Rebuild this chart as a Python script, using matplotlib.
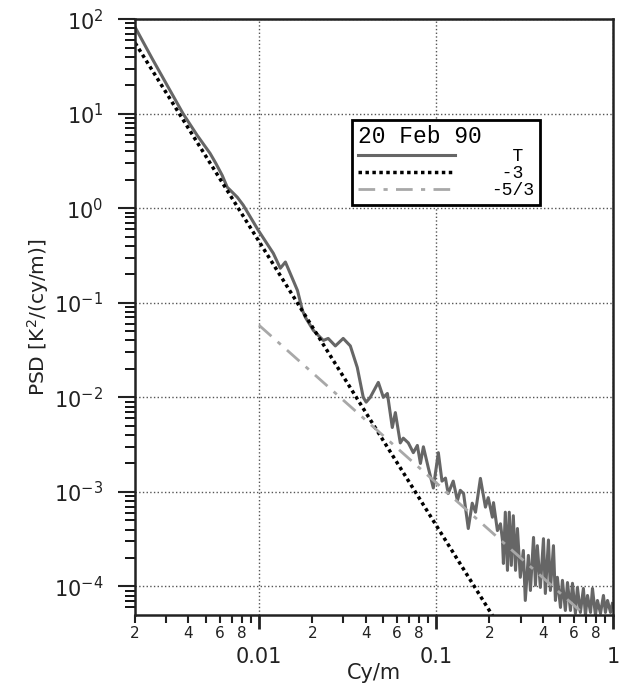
import numpy as np
import matplotlib.pyplot as plt
from matplotlib.ticker import FixedLocator, LogFormatterSciNotation, FuncFormatter, NullFormatter
from matplotlib.font_manager import FontProperties

# temperature spectrum, 20 Feb 90
t_freq = [0.002, 0.0025, 0.00303, 0.00373, 0.00448, 0.0053, 0.0057, 0.0062,
          0.00662, 0.00754, 0.00815, 0.00991, 0.01205, 0.0132, 0.0141, 0.0156,
          0.0165, 0.0176, 0.0183, 0.0203, 0.0231, 0.0246, 0.0270, 0.0299,
          0.0328, 0.0359, 0.0388, 0.0403, 0.0425, 0.0472, 0.0504, 0.0531,
          0.0566, 0.0589, 0.0628, 0.0653, 0.0697, 0.0744, 0.0784, 0.0816,
          0.0848, 0.0904, 0.0965, 0.103, 0.108, 0.113, 0.117, 0.125,
          0.132, 0.137, 0.143, 0.152, 0.160, 0.167, 0.178, 0.190,
          0.197, 0.208, 0.211, 0.222, 0.231, 0.237, 0.240, 0.246,
          0.253, 0.259, 0.266, 0.273, 0.281, 0.288, 0.299, 0.311,
          0.319, 0.332, 0.341, 0.355, 0.364, 0.373, 0.388, 0.404,
          0.414, 0.431, 0.442, 0.460, 0.472, 0.484, 0.504, 0.517,
          0.537, 0.552, 0.574, 0.589, 0.612, 0.628, 0.653, 0.679,
          0.697, 0.716, 0.745, 0.764, 0.794, 0.815, 0.848, 0.881,
          0.904, 0.929, 0.966, 0.990]
t_psd = [82, 38, 20, 10.0, 5.9, 3.8, 3.0, 2.23,
         1.67, 1.31, 1.08, 0.585, 0.334, 0.232, 0.27, 0.173,
         0.135, 0.083, 0.070, 0.051, 0.040, 0.042, 0.035, 0.042,
         0.035, 0.0207, 0.0100, 0.0089, 0.0100, 0.0144, 0.0100, 0.0110,
         0.0048, 0.0069, 0.0033, 0.0037, 0.0033, 0.0026, 0.0031, 0.0020,
         0.0030, 0.0018, 0.0011, 0.0026, 0.0013, 0.0014, 0.00096, 0.0013,
         0.00081, 0.00104, 0.00096, 0.00041, 0.00076, 0.00061, 0.00139, 0.00069,
         0.00087, 0.00054, 0.00077, 0.00039, 0.00046, 0.00031, 0.000175, 0.00061,
         0.000148, 0.00061, 0.000167, 0.00056, 0.000148, 0.00041, 0.000125, 0.00024,
         0.0000711, 0.000213, 0.0000907, 0.00033, 0.000103, 0.00027, 0.0000976, 0.00032,
         0.0000843, 0.00031, 0.0000907, 0.00027, 0.0000711, 0.000125, 0.000060, 0.000116,
         0.0000557, 0.000110, 0.0000557, 0.000108, 0.0000519, 0.0000976, 0.0000531, 0.0000953,
         0.0000496, 0.0000803, 0.0000531, 0.0000953, 0.0000496, 0.0000711, 0.0000519, 0.0000803,
         0.0000531, 0.0000711, 0.0000531, 0.000066]

# reference slopes
m3_freq = [0.002, 0.21]
m3_psd = [56, 4.8e-5]
m53_freq = [0.01, 1.0]
m53_psd = [0.058, 2.7e-5]

x_major = [0.01, 0.1, 1]
x_minor = [m * 10.0 ** e for e in (-3, -2, -1) for m in range(2, 10)]
y_major = [1e-4, 1e-3, 1e-2, 1e-1, 1, 10, 100]
y_minor = [m * 10.0 ** e for e in (-5, -4, -3, -2, -1, 0, 1) for m in range(2, 10)]

fig = plt.figure(figsize=(6.2, 6.84), dpi=100)
ax = fig.add_axes([0.218, 0.101, 0.771, 0.871])

ax.plot(t_freq, t_psd, color='#666666', lw=2.2, label='  T ')
ax.plot(m3_freq, m3_psd, color='black', lw=2.5, ls=(0, (1, 1)), label=' -3 ')
ax.plot(m53_freq, m53_psd, color='#a8a8a8', lw=2, ls=(0, (6, 3, 1.5, 3)), label='-5/3')

ax.set_xscale('log')
ax.set_yscale('log')
ax.set_xlim(0.002, 1)
ax.set_ylim(5e-5, 100)

ax.xaxis.set_major_locator(FixedLocator(x_major))
ax.xaxis.set_major_formatter(FuncFormatter(lambda v, p: '%g' % v))
ax.xaxis.set_minor_locator(FixedLocator(x_minor))

def minor_lab(v, p):
    d = int(round(v / 10 ** np.floor(np.log10(v) + 1e-9)))
    return str(d) if d in (2, 4, 6, 8) else ''

ax.xaxis.set_minor_formatter(FuncFormatter(minor_lab))
ax.yaxis.set_major_locator(FixedLocator(y_major))
ax.yaxis.set_major_formatter(LogFormatterSciNotation())
ax.yaxis.set_minor_locator(FixedLocator([v for v in y_minor if v > 5e-5]))
ax.yaxis.set_minor_formatter(NullFormatter())

ax.tick_params(axis='x', which='major', length=10, width=2, pad=13, labelsize=15, colors='#222222')
ax.tick_params(axis='x', which='minor', length=6, width=1.5, pad=2, labelsize=11, colors='#222222')
ax.tick_params(axis='y', which='major', length=12, width=1.5, pad=11, labelsize=15, colors='#222222')
ax.tick_params(axis='y', which='minor', length=7, width=1.3)

for s in ax.spines.values():
    s.set_linewidth(1.8)
    s.set_color('#222222')

ax.grid(True, which='major', ls=':', color='#555555', lw=1)

ax.set_xlabel('Cy/m', fontsize=15, labelpad=-3, color='#222222')
ax.set_ylabel('PSD [K$^2$/(cy/m)]', fontsize=14.5, labelpad=2, color='#222222')

mono = FontProperties(family='Liberation Mono', size=13)
mono_t = FontProperties(family='Liberation Mono', size=16.5)
leg = ax.legend(title='20 Feb 90', loc='upper left', bbox_to_anchor=(0.454, 0.831),
                prop=mono, title_fontproperties=mono_t, alignment='left',
                fancybox=False, edgecolor='black', framealpha=1,
                handlelength=5.4, handletextpad=2.0, labelspacing=0.0,
                borderpad=0.3, borderaxespad=0)
leg.get_frame().set_linewidth(2)

fig.savefig('out.png', dpi=100)
